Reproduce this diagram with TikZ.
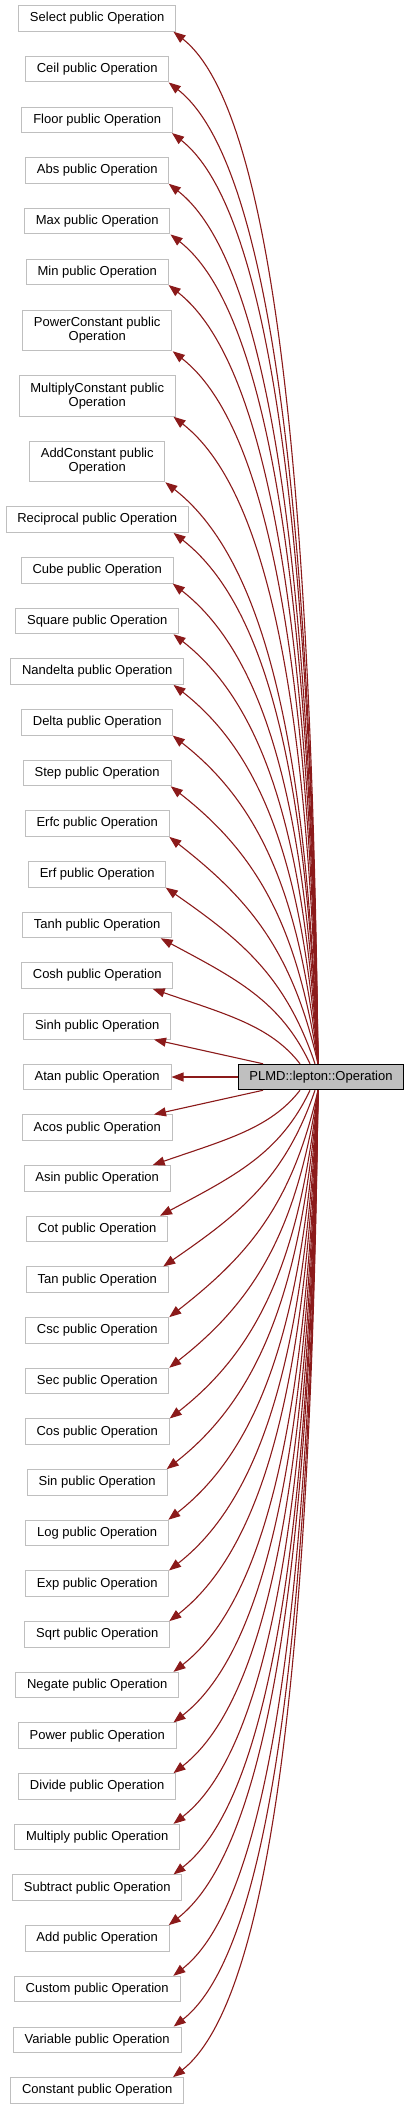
\documentclass[tikz,border=0pt]{standalone}
\usepackage{fontspec}
\setmainfont{Liberation Sans}
\usetikzlibrary{arrows.meta}
\definecolor{edgered}{HTML}{8B1A1A}
\definecolor{boxgray}{HTML}{BFBFBF}
\begin{document}
\begin{tikzpicture}[x=1pt,y=-1pt,
  opbox/.style={draw=boxgray,line width=1pt,fill=white,inner xsep=11.3pt,inner ysep=0pt,minimum height=25.5pt,align=center,font=\fontsize{13pt}{14pt}\selectfont},
  opbox2/.style={opbox,minimum height=40.5pt},
  rootbox/.style={opbox,draw=black,fill=boxgray},
  inh/.style={draw=edgered,line width=1.1pt,-{Triangle[length=12pt,width=9pt]}}]
\useasboundingbox (0,0) rectangle (411,2109);
% root
\node[rootbox] (plmd) at (321,1077) {PLMD::lepton::Operation};
% upper children
\node[opbox] (opselect) at (97.2,18.5) {Select public Operation};
\node[opbox] (opceil) at (97.2,69.2) {Ceil public Operation};
\node[opbox] (opfloor) at (97.2,119.8) {Floor public Operation};
\node[opbox] (opabs) at (97.2,170.5) {Abs public Operation};
\node[opbox] (opmax) at (97.2,221.2) {Max public Operation};
\node[opbox] (opmin) at (97.2,271.8) {Min public Operation};
\node[opbox2] (oppowerc) at (97.2,330.5) {PowerConstant public\\Operation};
\node[opbox2] (opmultc) at (97.2,396) {MultiplyConstant public\\Operation};
\node[opbox2] (opaddc) at (97.2,461.5) {AddConstant public\\Operation};
\node[opbox] (oprecip) at (97.2,519.6) {Reciprocal public Operation};
\node[opbox] (opcube) at (97.2,570.3) {Cube public Operation};
\node[opbox] (opsquare) at (97.2,621.0) {Square public Operation};
\node[opbox] (opnandelta) at (97.2,671.6) {Nandelta public Operation};
\node[opbox] (opdelta) at (97.2,722.3) {Delta public Operation};
\node[opbox] (opstep) at (97.2,773.0) {Step public Operation};
\node[opbox] (operfc) at (97.2,823.6) {Erfc public Operation};
\node[opbox] (operf) at (97.2,874.3) {Erf public Operation};
\node[opbox] (optanh) at (97.2,925.0) {Tanh public Operation};
\node[opbox] (opcosh) at (97.2,975.6) {Cosh public Operation};
\node[opbox] (opsinh) at (97.2,1026.3) {Sinh public Operation};
\node[opbox] (opatan) at (97.2,1077) {Atan public Operation};
% lower children
\node[opbox] (opacos) at (97.2,1127.7) {Acos public Operation};
\node[opbox] (opasin) at (97.2,1178.3) {Asin public Operation};
\node[opbox] (opcot) at (97.2,1229.0) {Cot public Operation};
\node[opbox] (optan) at (97.2,1279.7) {Tan public Operation};
\node[opbox] (opcsc) at (97.2,1330.4) {Csc public Operation};
\node[opbox] (opsec) at (97.2,1381.0) {Sec public Operation};
\node[opbox] (opcos) at (97.2,1431.7) {Cos public Operation};
\node[opbox] (opsin) at (97.2,1482.4) {Sin public Operation};
\node[opbox] (oplog) at (97.2,1533.0) {Log public Operation};
\node[opbox] (opexp) at (97.2,1583.7) {Exp public Operation};
\node[opbox] (opsqrt) at (97.2,1634.4) {Sqrt public Operation};
\node[opbox] (opnegate) at (97.2,1685.1) {Negate public Operation};
\node[opbox] (oppower) at (97.2,1735.7) {Power public Operation};
\node[opbox] (opdivide) at (97.2,1786.4) {Divide public Operation};
\node[opbox] (opmultiply) at (97.2,1837.1) {Multiply public Operation};
\node[opbox] (opsubtract) at (97.2,1887.7) {Subtract public Operation};
\node[opbox] (opadd) at (97.2,1938.4) {Add public Operation};
\node[opbox] (opcustom) at (97.2,1989.1) {Custom public Operation};
\node[opbox] (opvariable) at (97.2,2039.8) {Variable public Operation};
\node[opbox] (opconstant) at (97.2,2090.4) {Constant public Operation};
% upper edges
\foreach \nm/\sdx/\tx/\ty in {
  opselect/-3/173.5/31.25, opceil/-3/168.7/81.95, opfloor/-3/172/132.55,
  opabs/-3/168.7/183.25, opmax/-3/170.5/233.95, opmin/-3/168.6/284.55,
  oppowerc/-3/172.7/350.75, opmultc/-3/173.5/416.25, opaddc/-3/165.3/481.75,
  oprecip/-3/173.5/532.35, opcube/-3/172.7/583.05, opsquare/-3/173.5/633.75,
  opnandelta/-3/173.5/684.35, opdelta/-3/172.7/735.05, opstep/-3/170.7/785.75,
  operfc/-3/169.3/836.35, operf/-6/165.7/887.05, optanh/-11/160.7/937.75,
  opcosh/-21/152.7/988.35}{
  \pgfmathsetmacro\myW{321+\sdx-\tx}
  \pgfmathsetmacro\myD{1064.5-\ty}
  \pgfmathsetmacro\myR{min(1,200/\myD)}
  \pgfmathsetmacro\myCa{-0.2*\myR*\myW}
  \pgfmathsetmacro\myCb{-0.5*\myD}
  \pgfmathsetmacro\myBe{(0.5+0.3*(1-\myR))*\myW}
  \pgfmathsetmacro\myTh{min(38,0.7*atan(\myD/\myW))}
  \pgfmathsetmacro\myCd{\myBe*tan(\myTh)}
  \coordinate (tip-\nm) at (\tx,0);
  \draw[inh] ([xshift=\sdx pt]plmd.north) .. controls +(\myCa,\myCb) and +(\myBe,\myCd) .. (\nm.south -| tip-\nm);
}
% lower edges
\foreach \nm/\sdx/\tx/\ty in {
  opasin/-21/152.7/1165.55, opcot/-11/160/1216.25,
  optan/-6/163.3/1266.95, opcsc/-3/169.2/1317.65, opsec/-3/169.2/1368.25,
  opcos/-3/169.7/1418.95, opsin/-3/166.7/1469.65, oplog/-3/168.3/1520.25,
  opexp/-3/169/1570.95, opsqrt/-3/169.3/1621.65, opnegate/-3/173.5/1672.35,
  oppower/-3/173.5/1722.95, opdivide/-3/173.5/1773.65, opmultiply/-3/173.5/1824.35,
  opsubtract/-3/173.5/1874.95, opadd/-3/168.7/1925.65, opcustom/-3/173.3/1976.35,
  opvariable/-3/173.7/2027.05, opconstant/-3/173/2077.65}{
  \pgfmathsetmacro\myW{321+\sdx-\tx}
  \pgfmathsetmacro\myD{\ty-1089.5}
  \pgfmathsetmacro\myR{min(1,200/\myD)}
  \pgfmathsetmacro\myCa{-0.2*\myR*\myW}
  \pgfmathsetmacro\myCb{0.5*\myD}
  \pgfmathsetmacro\myBe{(0.5+0.3*(1-\myR))*\myW}
  \pgfmathsetmacro\myTh{min(38,0.7*atan(\myD/\myW))}
  \pgfmathsetmacro\myCd{-\myBe*tan(\myTh)}
  \coordinate (tip-\nm) at (\tx,0);
  \draw[inh] ([xshift=\sdx pt]plmd.south) .. controls +(\myCa,\myCb) and +(\myBe,\myCd) .. (\nm.north -| tip-\nm);
}
% nearly straight edges
\coordinate (tip-opsinh) at (154,0);
\coordinate (tip-opacos) at (154,0);
\draw[inh] ([xshift=-58pt]plmd.north) -- (opsinh.south -| tip-opsinh);
\draw[inh] ([xshift=-58pt]plmd.south) -- (opacos.north -| tip-opacos);
\draw[inh] (plmd.west) -- (opatan.east);
\end{tikzpicture}
\end{document}
